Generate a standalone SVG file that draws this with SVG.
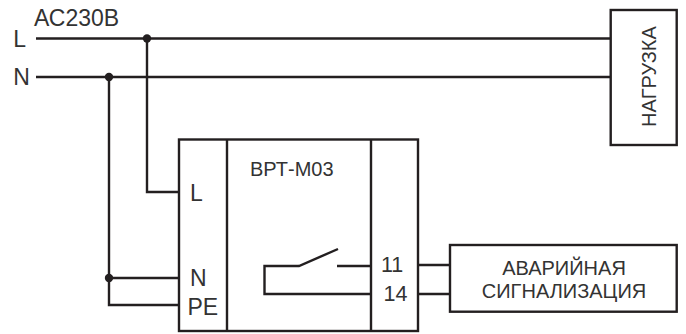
<svg xmlns="http://www.w3.org/2000/svg" width="686" height="334" viewBox="0 0 686 334">
<style>
.w{fill:none;stroke:#231f20;stroke-width:2.4;stroke-linejoin:miter}
.b{fill:#fff;stroke:#231f20;stroke-width:2.4}
.d{fill:#231f20}
text{font-family:"Liberation Sans",Arial,sans-serif;fill:#333;font-size:23px}
.s{font-size:20px}
.m{font-size:21.5px}
</style>
<rect width="686" height="334" fill="#fff"/>
<g id="connectors">
<path class="w" d="M36 38.5H611M36 77H611"/>
<path class="w" d="M147 38.5V192H179"/>
<path class="w" d="M109 77V305H179M109 278H179"/>
<path class="w" d="M418 265H450M418 294H450"/>
<circle class="d" cx="147" cy="38.5" r="4.2"/>
<circle class="d" cx="109" cy="77" r="4.2"/>
<circle class="d" cx="109" cy="278" r="4.2"/>
</g>
<g id="labels"><text x="13.3" y="47">L</text><text x="13.3" y="85">N</text><text x="34" y="25.5">АС230В</text></g>
<g id="device">
<rect class="b" x="179" y="139.5" width="239" height="191.5"/>
<path class="w" d="M227 139.5V331M371 139.5V331"/>
<path class="w" d="M337 266H371M338 249L299 266H264.5V294H371"/>
<text class="s" x="250" y="176">ВРТ-М03</text>
<text x="190" y="200.5">L</text><text x="190" y="286">N</text><text x="187.5" y="315">PE</text>
<text class="m" x="381" y="272">11</text><text class="m" x="383.5" y="301">14</text>
</g>
<g id="alarm">
<rect class="b" x="450" y="245" width="226.7" height="66.7"/>
<text class="s" x="564" y="275" text-anchor="middle">АВАРИЙНАЯ</text>
<text class="s" x="564" y="298" text-anchor="middle">СИГНАЛИЗАЦИЯ</text>
</g>
<g id="load">
<rect class="b" x="610.7" y="10" width="66" height="135"/>
<text class="s" transform="translate(656 127) rotate(-90)">НАГРУЗКА</text>
</g>
</svg>
